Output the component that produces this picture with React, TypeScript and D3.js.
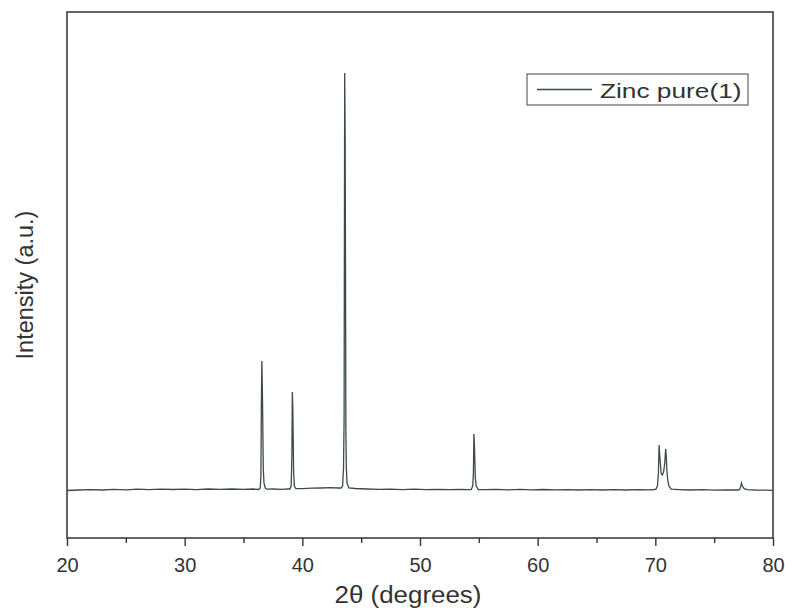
import React, { useRef, useEffect } from "react";
import * as d3 from "d3";

// XRD pattern: [2theta, intensity (a.u.)]
const baseline: [number, number][] = [
  [20, 47.5], [21, 48], [22, 48.3], [23, 48], [24, 48.6], [25, 48.2], [26, 48.8],
  [27, 48.4], [28, 48.9], [29, 48.5], [30, 48.8], [31, 48.4], [32, 49], [33, 48.6],
  [34, 49], [35, 48.7], [35.8, 49],
];
const peak36: [number, number][] = [
  [36.3, 48.5], [36.42, 50], [36.48, 62], [36.52, 135], [36.56, 177], [36.6, 150],
  [36.64, 113], [36.68, 70], [36.74, 55], [36.85, 50], [37.0, 48.8],
];
const mid1: [number, number][] = [[37.5, 49], [38.2, 48.6], [38.8, 49.2]];
const peak39: [number, number][] = [
  [38.95, 49], [39.05, 52], [39.11, 80], [39.15, 146], [39.19, 130], [39.22, 103],
  [39.26, 65], [39.32, 52], [39.45, 49.5],
];
const mid2: [number, number][] = [[40, 49.3], [40.8, 49.8], [41.6, 50], [42.4, 50.3], [43, 50]];
const peak43: [number, number][] = [
  [43.3, 50], [43.42, 52], [43.5, 70], [43.55, 120], [43.6, 465], [43.64, 400],
  [43.67, 266], [43.7, 108], [43.74, 70], [43.8, 55], [43.95, 50],
];
const mid3: [number, number][] = [
  [44.5, 49.5], [45.5, 49], [46.5, 48.6], [47.5, 48.9], [48.5, 48.4], [49.5, 48.8],
  [50.5, 48.3], [51.5, 48.7], [52.5, 48.3], [53.5, 48.6], [54.2, 48.4],
];
const peak54: [number, number][] = [
  [54.35, 48.5], [54.48, 52], [54.54, 65], [54.58, 104], [54.62, 95], [54.66, 78],
  [54.7, 60], [54.78, 52], [54.95, 48.5],
];
const mid4: [number, number][] = [
  [55.5, 48.3], [56.5, 48.7], [57.5, 48.2], [58.5, 48.6], [59.5, 48.1], [60.5, 48.5],
  [61.5, 48.1], [62.5, 48.4], [63.5, 48], [64.5, 48.4], [65.5, 48], [66.5, 48.3],
  [67.5, 48], [68.5, 48.4], [69.5, 48.2], [69.9, 48.5],
];
const peak70: [number, number][] = [
  [70.05, 48.8], [70.18, 52], [70.26, 65], [70.32, 93], [70.36, 85], [70.42, 76],
  [70.5, 64], [70.6, 63], [70.7, 66], [70.8, 75], [70.88, 89], [70.93, 82],
  [70.98, 68], [71.05, 58], [71.15, 52], [71.35, 48.8],
];
const mid5: [number, number][] = [
  [72, 48.4], [73, 48], [74, 48.3], [75, 47.9], [76, 48.2], [77, 48],
];
const peak77: [number, number][] = [
  [77.15, 48.3], [77.25, 51], [77.32, 55], [77.4, 52], [77.55, 49.3], [77.8, 48.4],
];
const tail: [number, number][] = [[78.5, 48], [79.3, 47.8], [80, 47.6]];

const pattern = [
  ...baseline, ...peak36, ...mid1, ...peak39, ...mid2, ...peak43, ...mid3,
  ...peak54, ...mid4, ...peak70, ...mid5, ...peak77, ...tail,
];

const majorTicks = [20, 30, 40, 50, 60, 70, 80];
const minorTicks = [25, 35, 45, 55, 65, 75];
const seriesName = "Zinc pure(1)";

const W = 785;
const H = 609;
const margin = { left: 67, right: 12, top: 12, bottom: 71 };
const FONT = "'Liberation Sans', Arial, sans-serif";

export default function App() {
  const xAxisRef = useRef<SVGGElement>(null);

  const x = d3.scaleLinear().domain([20, 80]).range([margin.left, W - margin.right]);
  const y = d3.scaleLinear().domain([0, 526]).range([H - margin.bottom, margin.top]);

  const line = d3
    .line<[number, number]>()
    .x((d) => x(d[0]))
    .y((d) => y(d[1]));

  useEffect(() => {
    const g = d3.select(xAxisRef.current);
    g.selectAll("*").remove();
    g.append("g")
      .call(d3.axisBottom(x).tickValues(majorTicks).tickSize(8).tickFormat(d3.format("d")))
      .call((s) => s.select(".domain").remove())
      .call((s) => s.selectAll("line").attr("stroke", "#333").attr("stroke-width", 1.4))
      .call((s) =>
        s.selectAll("text")
          .attr("font-size", 20)
          .attr("font-family", FONT)
          .attr("fill", "#333")
          .attr("y", 34)
          .attr("dy", 0)
      );
    g.append("g")
      .call(d3.axisBottom(x).tickValues(minorTicks).tickSize(5).tickFormat(() => ""))
      .call((s) => s.select(".domain").remove())
      .call((s) => s.selectAll("line").attr("stroke", "#333").attr("stroke-width", 1.4));
  }, []);

  const plotW = W - margin.left - margin.right;
  const plotH = H - margin.top - margin.bottom;

  return (
    <svg width={W} height={H} style={{ position: "absolute", left: 0, top: 0, background: "#fff" }}>
      <rect x={margin.left} y={margin.top} width={plotW} height={plotH}
        fill="none" stroke="#333" strokeWidth={1.5} />
      <path d={line(pattern) ?? ""} fill="none" stroke="#3d4b47" strokeWidth={1.3} />
      <g ref={xAxisRef} transform={`translate(0,${H - margin.bottom})`} />

      <text transform="translate(408,603) scale(1.08,1)" textAnchor="middle" fontSize={24}
        fontFamily={FONT} fill="#333">
        2θ (degrees)
      </text>
      <text transform="translate(33,285) rotate(-90)" textAnchor="middle" fontSize={23.5}
        fontFamily={FONT} fill="#333">
        Intensity (a.u.)
      </text>

      <g>
        <rect x={527} y={74} width={221} height={31} fill="#fff" stroke="#444" strokeWidth={1} />
        <line x1={537} x2={592} y1={89.5} y2={89.5} stroke="#3d4b47" strokeWidth={1.3} />
        <text transform="translate(600,98) scale(1.25,1)" fontSize={21} fontFamily={FONT} fill="#333">
          {seriesName}
        </text>
      </g>
    </svg>
  );
}
